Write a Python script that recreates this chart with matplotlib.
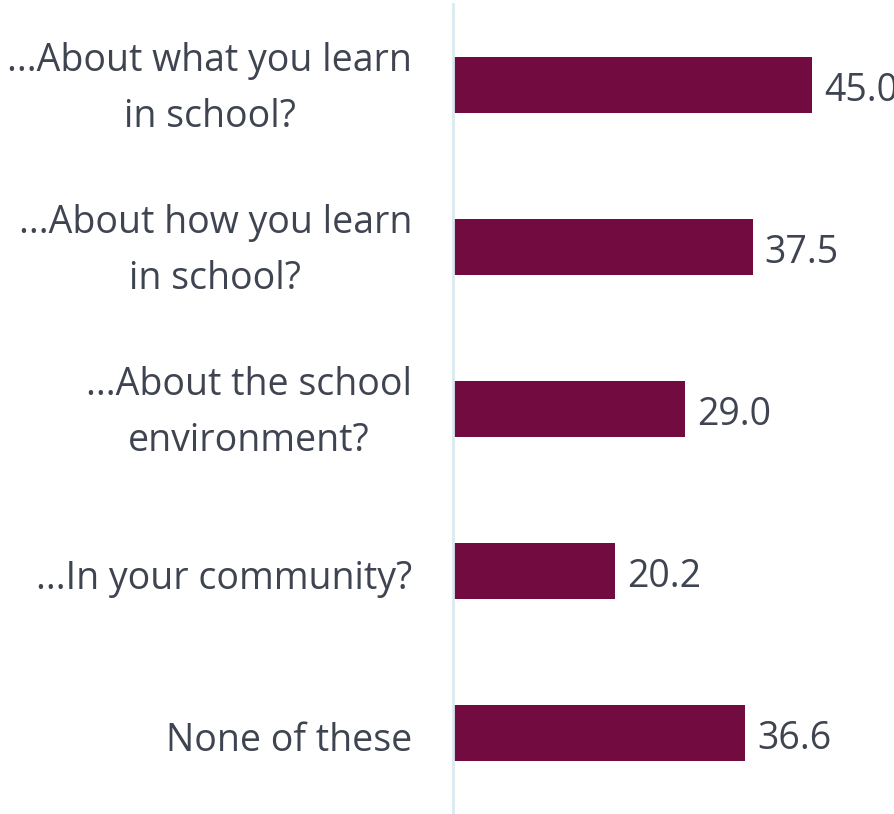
import matplotlib
matplotlib.use('Agg')
import matplotlib.pyplot as plt

# data
labels = ['...About what you learn\nin school?',
          '...About how you learn\nin school?',
          '...About the school\nenvironment?',
          '...In your community?',
          'None of these']
values = [45.0, 37.5, 29.0, 20.2, 36.6]

plt.rcParams['font.family'] = ['Open Sans', 'DejaVu Sans']
bar_color = '#720b3f'
text_color = '#3f4451'

fig = plt.figure(figsize=(8.95, 8.14), dpi=100)
ax = fig.add_axes([453 / 895, 0, 442 / 895, 810 / 814])

ypos = list(range(len(values)))
ax.barh(ypos, values, height=0.35, color=bar_color, left=0)
for y, v in zip(ypos, values):
    ax.text(v + 1.5, y + 0.04, f'{v:.1f}', va='center', ha='left',
            fontsize=27, color=text_color, clip_on=False)

# category labels, centred lines like the original
for y, lab in zip(ypos, labels):
    dy = 0.025 if '\n' in lab else 0.05
    ax.text(-0.093, y + dy, lab, transform=ax.get_yaxis_transform(),
            ha='right', va='center', multialignment='center',
            linespacing=1.6, fontsize=27, color=text_color)

ax.set_xlim(-0.15, 55.4)
ax.set_ylim(4.5, -0.5)
ax.set_yticks([])
ax.set_xticks([])
for s in ['top', 'right', 'bottom']:
    ax.spines[s].set_visible(False)
ax.spines['left'].set_color('#d9eaf0')
ax.spines['left'].set_linewidth(2)
ax.spines['left'].set_position(('data', -0.15))

fig.savefig('out.png', dpi=100)
